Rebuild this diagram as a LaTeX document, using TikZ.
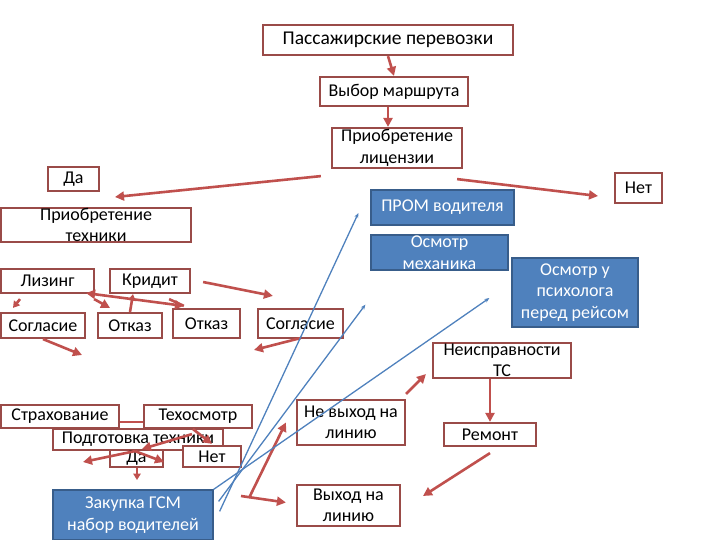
\documentclass[tikz,border=0pt]{standalone}
\usepackage{fontspec}
\setmainfont{Carlito}
\usetikzlibrary{arrows.meta,calc}
\definecolor{bordc}{HTML}{9A4B48}
\definecolor{arrc}{HTML}{C0504D}
\definecolor{bfill}{HTML}{4F81BD}
\definecolor{bdraw}{HTML}{385D8A}
\newcommand\fsz{\fontsize{18}{21.5}\selectfont}
\newcommand\mybox[7]{\node[#2, minimum width=#5pt, minimum height=#6pt, label={[txt,#2txt]center:{#7}}] (#1) at (#3,#4) {};}
\tikzset{
  rbox/.style={draw=bordc, line width=2.2pt, fill=white, inner sep=0pt},
  bbox/.style={draw=bdraw, line width=1.2pt, fill=bfill, inner sep=0pt},
  txt/.style={align=center, font=\fsz, inner sep=0pt},
  rboxtxt/.style={text=black},
  bboxtxt/.style={text=white},
  ra/.style={draw=arrc, line width=2.6pt, -{Triangle[length=9pt,width=9pt]}},
  ras/.style={draw=arrc, line width=2.6pt, -{Triangle[length=6.5pt,width=7.5pt]}},
  ra2/.style={draw=arrc, line width=2.6pt, {Triangle[length=9pt,width=9pt]}-{Triangle[length=9pt,width=9pt]}},
  rl/.style={draw=arrc, line width=2.6pt},
  bl/.style={draw=bfill, line width=1.3pt, -{Stealth[length=5pt,width=4pt]}}
}
\begin{document}
\begin{tikzpicture}[x=1pt,y=-1pt]
\useasboundingbox (0,0) rectangle (720,540);
% boxes
\mybox{pass}{rbox}{388}{40}{250}{30}{{\fontsize{19.5}{23}\selectfont Пассажирские перевозки}}
\mybox{vybor}{rbox}{394}{91.5}{148}{29}{Выбор маршрута}
\mybox{lic}{rbox}{397}{148}{130}{40}{Приобретение\\лицензии}
\mybox{da1}{rbox}{73.5}{179}{51}{24}{Да}
\mybox{net1}{rbox}{638.5}{188}{47}{30}{Нет}
\mybox{tech}{rbox}{96}{225}{190}{34}{Приобретение\\техники}
\mybox{prom}{bbox}{442.5}{207.5}{143}{35}{ПРОМ водителя}
\mybox{mech}{bbox}{439.5}{252.5}{137}{35}{Осмотр\\механика}
\mybox{psych}{bbox}{575}{292.5}{126}{69}{Осмотр у\\психолога\\перед рейсом}
\mybox{lizing}{rbox}{47.5}{281}{93}{24}{Лизинг}
\mybox{kridit}{rbox}{150}{281}{80}{24}{Кридит}
\mybox{sogl1}{rbox}{43}{325.5}{84}{25}{Согласие}
\mybox{otkaz1}{rbox}{130}{325.5}{64}{25}{Отказ}
\mybox{otkaz2}{rbox}{206.5}{323.5}{67}{29}{Отказ}
\mybox{sogl2}{rbox}{300.5}{323.5}{85}{29}{Согласие}
\mybox{neispr}{rbox}{502}{360.5}{138}{35}{Неисправности\\ТС}
\mybox{remont}{rbox}{490}{434.5}{92}{23}{Ремонт}
\mybox{nevyh}{rbox}{351}{422.5}{108}{45}{Не выход на\\линию}
\mybox{vyh}{rbox}{348.5}{505.5}{103}{41}{Выход на\\линию}
\mybox{strah}{rbox}{60}{416.5}{118}{23}{Страхование}
\mybox{tehosm}{rbox}{198}{416.5}{108}{23}{Техосмотр}
\mybox{podg}{rbox}{138}{439.5}{170}{21}{Подготовка техники}
\mybox{da2}{rbox}{136.5}{458.5}{53}{17}{Да}
\mybox{net2}{rbox}{212}{456.5}{58}{21}{Нет}
\mybox{zakup}{bbox}{133}{515}{160}{50}{Закупка ГСМ\\набор водителей}
% free ends
\coordinate (e3) at (115,197);
\coordinate (e4) at (598,196);
\coordinate (e6) at (82,355);
\coordinate (e10) at (254,350);
\coordinate (e13) at (423,496);
\coordinate (c1) at (241,496);
\coordinate (c2) at (249,498);
\coordinate (e17) at (142,449);
\coordinate (e18) at (83,462);
\coordinate (e19) at (164,462);
\coordinate (e20) at (137,480);
% red connectors
\draw[ra] (pass.south) -- (vybor.north);
\draw[ra] ([xshift=-6pt]vybor.south) -- ([xshift=-9pt]lic.north);
\draw[ra] ([xshift=-10pt,yshift=-7pt]lic.south west) -- (e3);
\draw[ra] ([xshift=-6pt,yshift=-10pt]lic.south east) -- (e4);
\draw[ras] ([xshift=-27.5pt,yshift=-5pt]lizing.south) -- ([xshift=-30pt,yshift=4pt]sogl1.north);
\draw[ra] (sogl1.south) -- (e6);
\draw[ra] ([xshift=-1pt,yshift=-5pt]lizing.south east) -- ([xshift=-20pt,yshift=4pt]otkaz1.north);
\draw[ra2] ([xshift=-9pt,yshift=1pt]lizing.south east) -- ([xshift=12pt,yshift=2pt]otkaz2.north west);
\draw[rl] ([xshift=-22pt,yshift=-5pt]kridit.south east) -- ([xshift=12pt,yshift=2pt]otkaz2.north west);
\draw[ras] (otkaz1.north) -- ([xshift=-17pt]kridit.south);
\draw[ra] ([xshift=12pt,yshift=-1pt]kridit.east) -- ([xshift=16pt,yshift=12pt]sogl2.north west);
\draw[ra] ([yshift=1pt]sogl2.south) -- (e10);
\draw[ra] ([yshift=5pt]nevyh.north east) -- ([xshift=-6pt,yshift=5pt]neispr.south west);
\draw[ra] ([xshift=-12pt]neispr.south) -- (remont.north);
\draw[ra] ([yshift=-6pt]remont.south) -- (e13);
\draw[ra] (c1) -- ([xshift=-10pt,yshift=3pt]vyh.west);
\draw[ra] (c2) -- ([xshift=-10pt]nevyh.west);
\draw[rl] ([yshift=-5.5pt]strah.east) -- ([yshift=-5.5pt]tehosm.west);
\draw[ra] ([xshift=-5pt]tehosm.south) -- ([yshift=1pt]net2.north);
\draw[ra] ([xshift=-6pt,yshift=-5pt]tehosm.south) -- (e17);
\draw[ra] ([xshift=-3pt]podg.south) -- (e18);
\draw[ra] ([xshift=-3pt]podg.south) -- (e19);
\draw[ras] ([xshift=0.5pt]da2.south) -- (e20);
% blue connectors
\draw[bl] ([xshift=6pt,yshift=-22pt]zakup.north east) -- ([xshift=-12pt,yshift=-5.5pt]prom.west);
\draw[bl] ([xshift=5pt,yshift=-12pt]zakup.north east) -- ([xshift=-5pt,yshift=-34pt]mech.south west);
\draw[bl] (zakup.north east) -- ([xshift=-22pt,yshift=-5.5pt]psych.west);
\end{tikzpicture}
\end{document}
